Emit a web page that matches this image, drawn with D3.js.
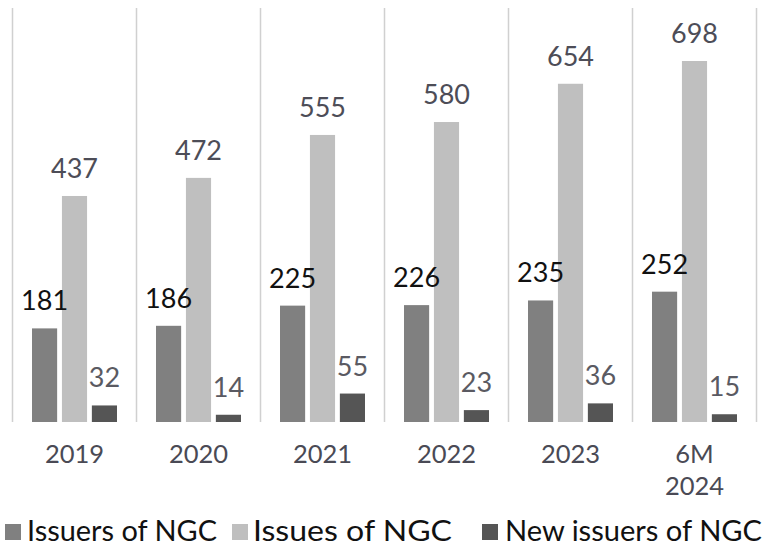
<!DOCTYPE html>
<html>
<head>
<meta charset="utf-8">
<script src="https://cdn.jsdelivr.net/npm/d3@7"></script>
<style>
  html, body { margin: 0; padding: 0; background: #fff; }
  svg { display: block; }
  text { font-family: Lato, "Open Sans", sans-serif; }
</style>
</head>
<body>
<svg id="chart" width="767" height="545"></svg>
<script>
// Categories (years) and the three series
const categories = ["2019", "2020", "2021", "2022", "2023", "6M 2024"];
const seriesNames = ["Issuers of NGC", "Issues of NGC", "New issuers of NGC"];
const issuers = [181, 186, 225, 226, 235, 252];
const issues = [437, 472, 555, 580, 654, 698];
const newIssuers = [32, 14, 55, 23, 36, 15];

const seriesValues = [issuers, issues, newIssuers];
const colors = ["#808080", "#bfbfbf", "#555555"];
const labelColors = ["#111111", "#4d4d57", "#5a5a62"];

const svg = d3.select("#chart");
const plotLeft = 12.5, plotRight = 756.5, plotTop = 8, baseline = 422;

const x0 = d3.scaleBand().domain(categories).range([plotLeft, plotRight]).paddingInner(0).paddingOuter(0);
const x1 = d3.scaleBand().domain(d3.range(3)).range([19.5, x0.bandwidth() - 19.5]).paddingInner(0.16);
const y = d3.scaleLinear().domain([0, 698]).range([baseline, 61]);

// vertical separators between groups
const bounds = categories.map(c => x0(c)).concat([plotRight]);
svg.append("g").selectAll("line").data(bounds).join("line")
  .attr("x1", d => d).attr("x2", d => d)
  .attr("y1", plotTop).attr("y2", baseline)
  .attr("stroke", "#d0d0d0").attr("stroke-width", 1.5);

const rows = categories.map((c, i) => seriesValues.map((s, k) => ({ cat: c, k, v: s[i] })));

const groups = svg.append("g").selectAll("g").data(rows).join("g")
  .attr("transform", d => `translate(${x0(d[0].cat)},0)`);

groups.selectAll("rect").data(d => d).join("rect")
  .attr("x", d => x1(d.k))
  .attr("width", x1.bandwidth())
  .attr("y", d => y(d.v))
  .attr("height", d => baseline - y(d.v))
  .attr("fill", d => colors[d.k]);

groups.selectAll("text.val").data(d => d).join("text")
  .attr("class", "val")
  .attr("x", d => x1(d.k) + x1.bandwidth() / 2)
  .attr("y", d => y(d.v) - 18)
  .attr("text-anchor", "middle")
  .attr("font-size", 27)
  .attr("fill", d => labelColors[d.k])
  .text(d => d.v);

// category axis labels (wrapped on spaces)
const axis = svg.append("g").attr("transform", `translate(0,${baseline})`)
  .call(d3.axisBottom(x0).tickSize(0).tickPadding(0));
axis.select(".domain").remove();
axis.selectAll(".tick text").each(function(d) {
  const t = d3.select(this);
  const parts = d.split(" ");
  t.text(null).attr("y", 0).attr("dy", null)
    .attr("font-size", 25.5).attr("fill", "#4a4a55")
    .attr("font-family", "Lato, 'Open Sans', sans-serif");
  parts.forEach((p, j) => t.append("tspan").attr("x", 0).attr("y", 41 + j * 32).text(p));
});

// legend
const legendPos = [
  { sx: 5, tx: 27, tw: 190 },
  { sx: 232, tx: 253, tw: 199 },
  { sx: 482, tx: 505, tw: 257 }
];
const lg = svg.append("g");
seriesNames.forEach((name, k) => {
  const p = legendPos[k];
  lg.append("rect").attr("x", p.sx).attr("y", 524).attr("width", 16).attr("height", 16).attr("fill", colors[k]);
  lg.append("text").attr("x", p.tx).attr("y", 540.5)
    .attr("font-size", 28.5).attr("fill", "#111")
    .attr("textLength", p.tw).attr("lengthAdjust", "spacingAndGlyphs")
    .text(name);
});
</script>
</body>
</html>
